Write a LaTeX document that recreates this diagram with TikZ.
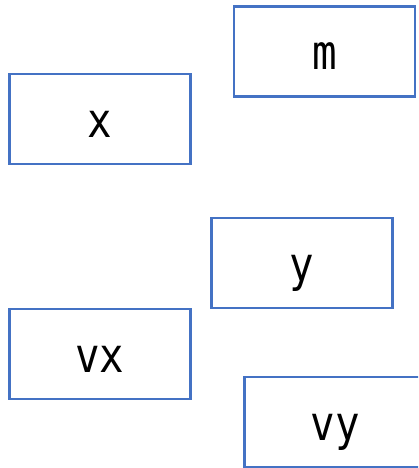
\documentclass[tikz,border=0pt]{standalone}
\usepackage{fontspec}
\setmainfont{DejaVu Sans Mono}[FakeStretch=0.85]
\definecolor{boxblue}{HTML}{4472C4}
\begin{document}
\begin{tikzpicture}[x=1pt,y=-1pt,
  varbox/.style={draw=boxblue,line width=2.6pt,fill=white,minimum width=181pt,minimum height=90pt,inner sep=0pt,text height=37pt,text depth=0pt,font=\fontsize{48}{48}\selectfont,text=black}]
\useasboundingbox (0,0) rectangle (418,468);
\clip (0,0) rectangle (418,468);
\node[varbox] (m) at (324.5,51.5) {m};
\node[varbox] (x) at (100,119) {x};
\node[varbox] (y) at (302,263) {y};
\node[varbox] (vx) at (100,354) {vx};
\node[varbox] (vy) at (335,422) {vy};
\end{tikzpicture}
\end{document}
